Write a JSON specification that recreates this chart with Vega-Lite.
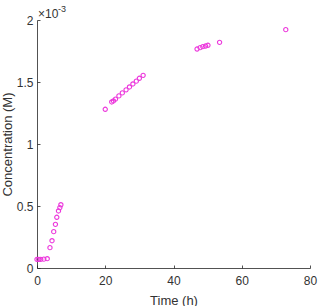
{
  "$schema": "https://vega.github.io/schema/vega-lite/v6.json",
  "width": 273,
  "height": 248,
  "autosize": {"type": "none"},
  "padding": {"left": 37, "top": 20, "right": 8, "bottom": 38},
  "background": "white",
  "config": {
    "view": {"stroke": null},
    "font": "Liberation Sans",
    "axis": {
      "domainColor": "#262626",
      "domainWidth": 0.8,
      "tickColor": "#262626",
      "tickWidth": 0.8,
      "tickSize": -3,
      "labelColor": "#333333",
      "labelFontSize": 12,
      "labelFont": "Liberation Sans",
      "titleColor": "#333333",
      "titleFontSize": 13,
      "titleFont": "Liberation Sans",
      "titleFontWeight": "normal",
      "grid": false
    }
  },
  "data": {
    "values": [
      {"t": 0, "c": 0.069},
      {"t": 0.5, "c": 0.069},
      {"t": 1.1, "c": 0.07},
      {"t": 2, "c": 0.071},
      {"t": 3, "c": 0.075},
      {"t": 3.8, "c": 0.164},
      {"t": 4.4, "c": 0.22},
      {"t": 4.9, "c": 0.293},
      {"t": 5.4, "c": 0.352},
      {"t": 5.8, "c": 0.409},
      {"t": 6.3, "c": 0.46},
      {"t": 6.7, "c": 0.487},
      {"t": 7.0, "c": 0.51},
      {"t": 20.0, "c": 1.28},
      {"t": 21.9, "c": 1.339},
      {"t": 22.4, "c": 1.347},
      {"t": 23.0, "c": 1.362},
      {"t": 24.0, "c": 1.388},
      {"t": 25.0, "c": 1.412},
      {"t": 26.1, "c": 1.437},
      {"t": 27.1, "c": 1.46},
      {"t": 28.1, "c": 1.484},
      {"t": 29.1, "c": 1.507},
      {"t": 30.0, "c": 1.53},
      {"t": 31.1, "c": 1.554},
      {"t": 46.9, "c": 1.766},
      {"t": 47.8, "c": 1.777},
      {"t": 48.6, "c": 1.785},
      {"t": 49.4, "c": 1.79},
      {"t": 50.1, "c": 1.796},
      {"t": 53.5, "c": 1.82},
      {"t": 72.9, "c": 1.922}
    ]
  },
  "layer": [
    {
      "mark": {"type": "point", "shape": "circle", "filled": false, "color": "#ec38dc", "strokeWidth": 1.1, "size": 18, "opacity": 1},
      "encoding": {
        "x": {
          "field": "t", "type": "quantitative",
          "scale": {"domain": [0, 80], "nice": false},
          "axis": {"values": [0, 20, 40, 60, 80], "format": "d", "title": "Time (h)", "labelPadding": 10, "titlePadding": 8, "labelFlush": false}
        },
        "y": {
          "field": "c", "type": "quantitative",
          "scale": {"domain": [0, 2], "nice": false},
          "axis": {"values": [0, 0.5, 1, 1.5, 2], "format": "~g", "title": "Concentration (M)", "labelPadding": 7, "titlePadding": 2, "labelFlush": false}
        }
      }
    },
    {
      "data": {"values": [{"t": 0, "c": 2, "s": "×10"}]},
      "mark": {"type": "text", "align": "left", "baseline": "alphabetic", "dx": 1, "dy": -2, "fontSize": 12, "color": "#333333", "font": "Liberation Sans"},
      "encoding": {
        "x": {"field": "t", "type": "quantitative"},
        "y": {"field": "c", "type": "quantitative"},
        "text": {"field": "s"}
      }
    },
    {
      "data": {"values": [{"t": 0, "c": 2, "s": "-3"}]},
      "mark": {"type": "text", "align": "left", "baseline": "alphabetic", "dx": 21, "dy": -8, "fontSize": 9, "color": "#333333", "font": "Liberation Sans"},
      "encoding": {
        "x": {"field": "t", "type": "quantitative"},
        "y": {"field": "c", "type": "quantitative"},
        "text": {"field": "s"}
      }
    }
  ]
}
